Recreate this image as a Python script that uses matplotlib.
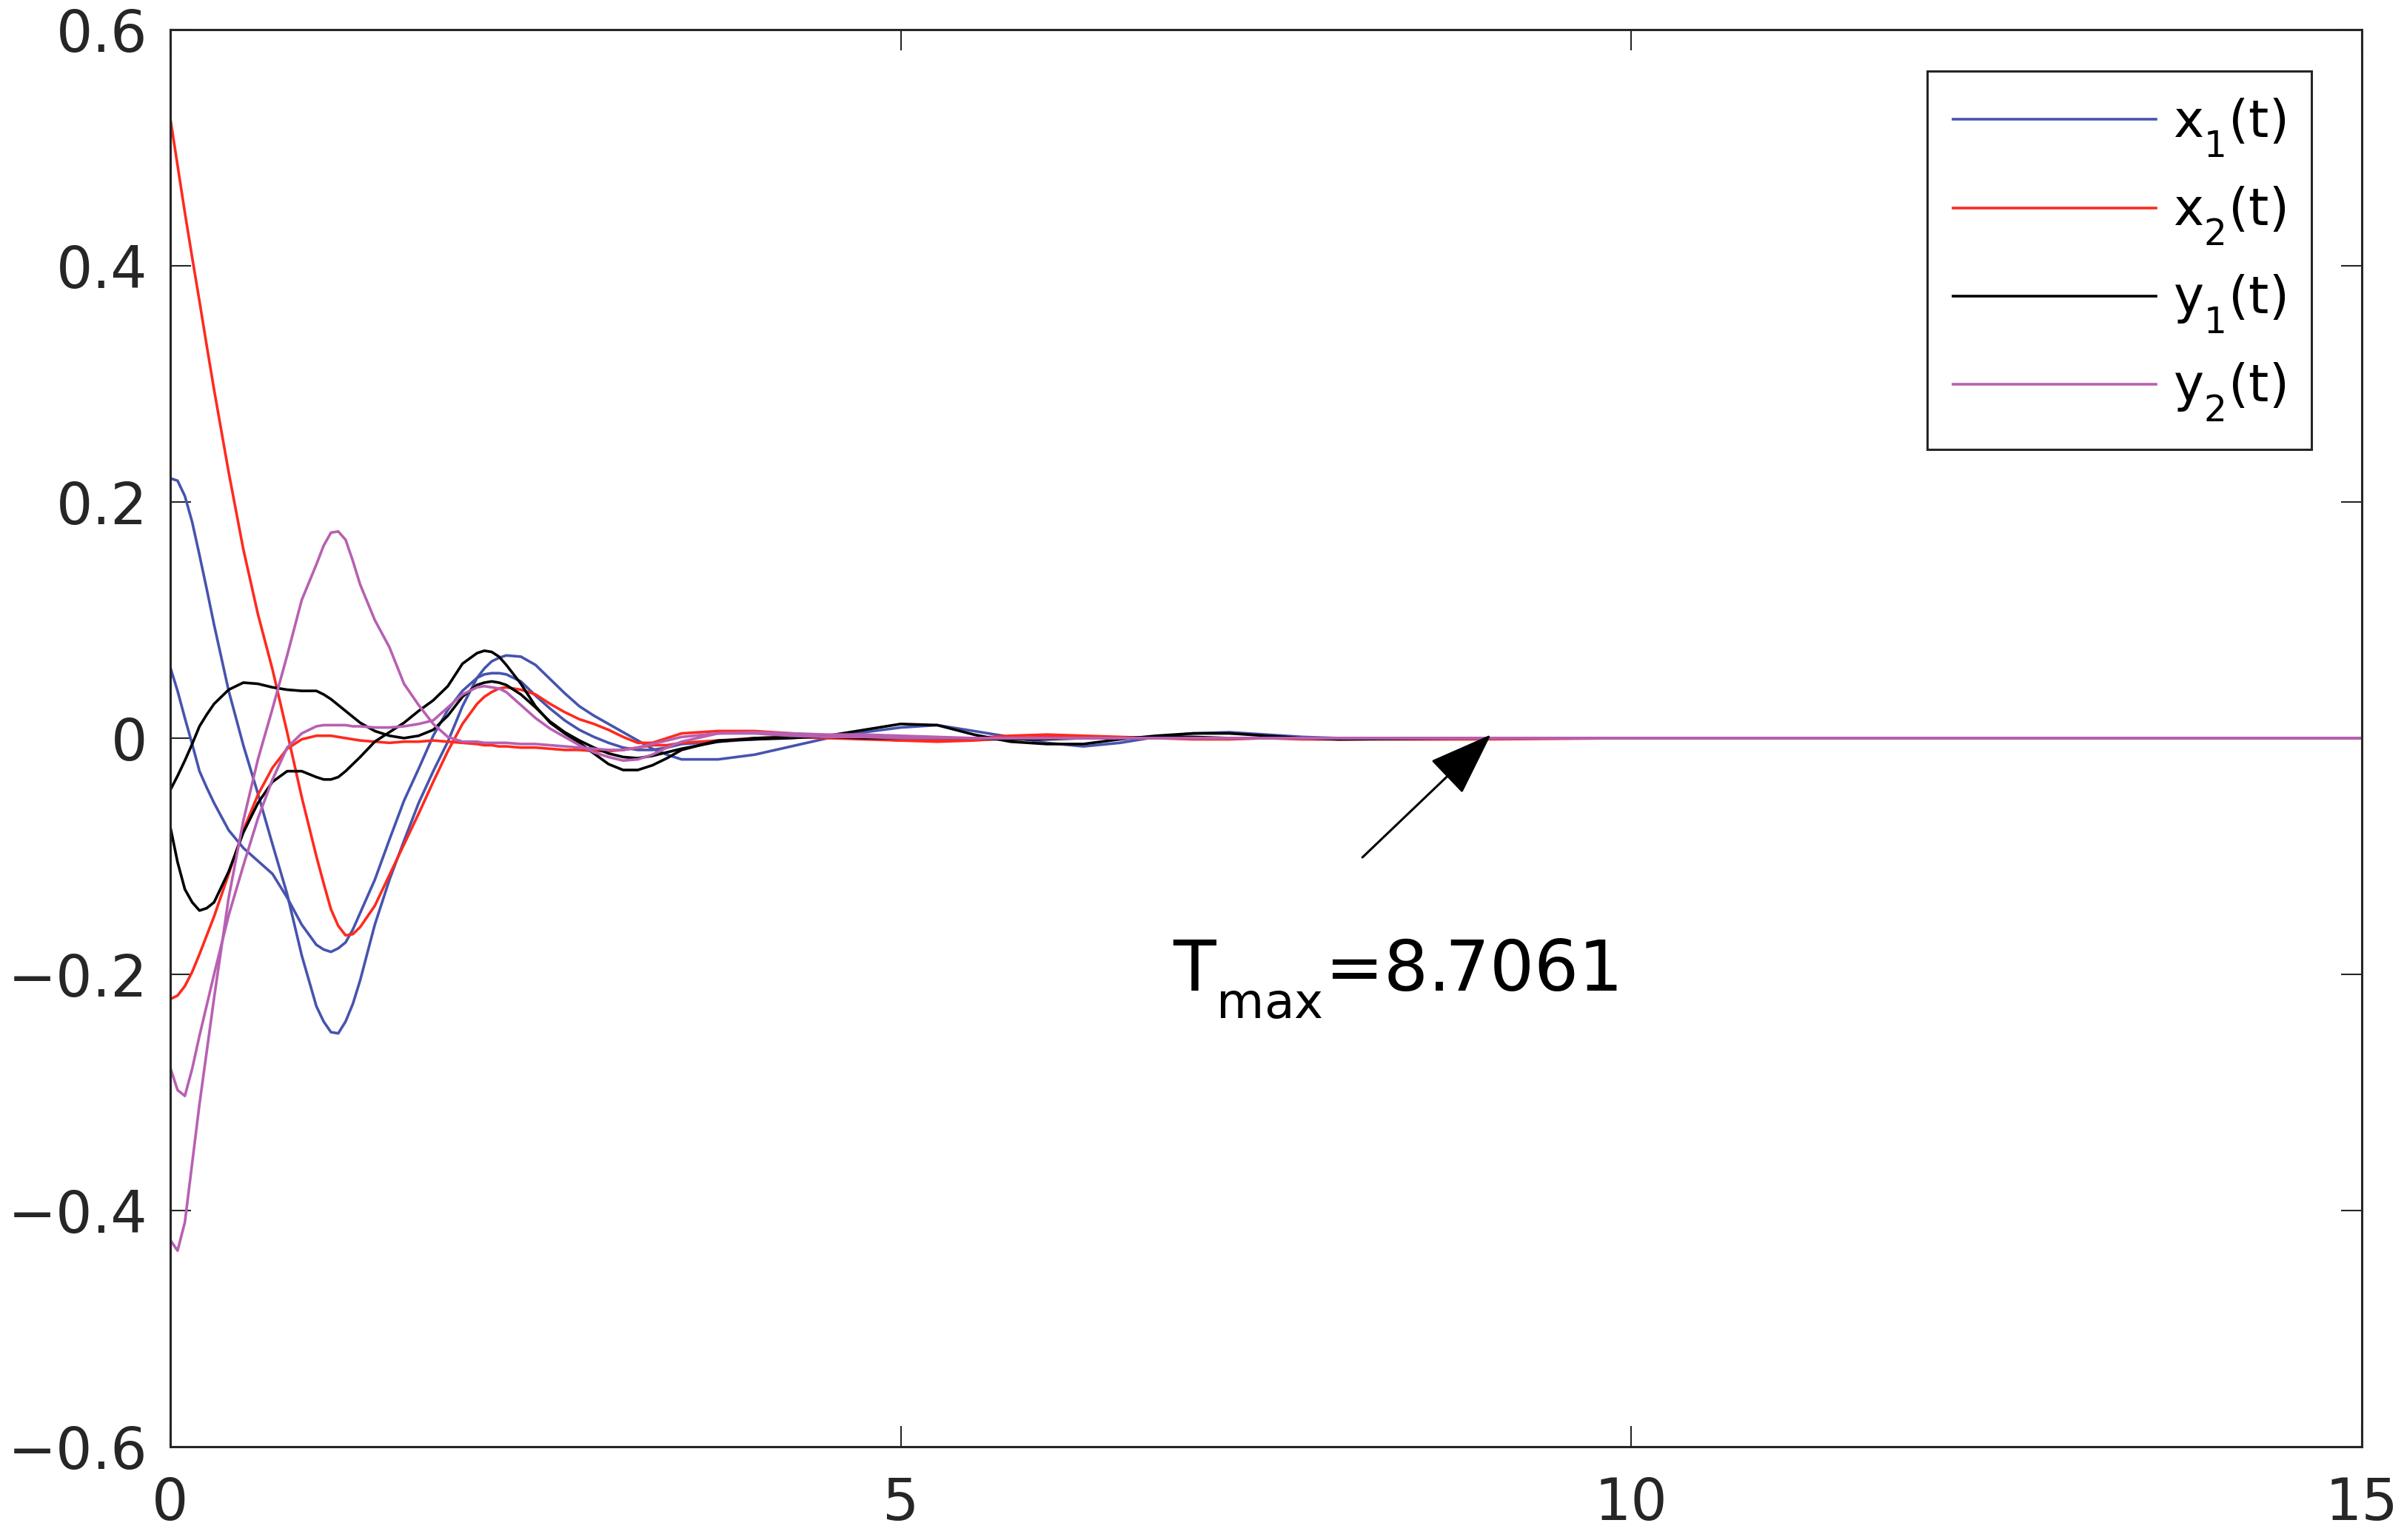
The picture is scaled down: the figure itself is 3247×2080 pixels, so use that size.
import matplotlib
matplotlib.use("Agg")
import matplotlib.pyplot as plt

# lower subscripts (MATLAB-like look)
try:
    import matplotlib._mathtext as _mt
    _mt.FontConstantsBase.sub1 = 0.72
    _mt.DejaVuSansFontConstants.sub1 = 0.72
except Exception:
    pass

# ---------------- data ----------------
t = [0.0, 0.05, 0.1, 0.15, 0.2, 0.25, 0.3, 0.4, 0.5, 0.6, 0.7, 0.8, 0.9,
     1.0, 1.05, 1.1, 1.15, 1.2, 1.25, 1.3, 1.4, 1.5, 1.6, 1.7, 1.8, 1.9,
     2.0, 2.1, 2.15, 2.2, 2.25, 2.3, 2.4, 2.5, 2.6, 2.7, 2.8, 2.9,
     3.0, 3.1, 3.2, 3.3, 3.4, 3.5,
     3.75, 4.0, 4.25, 4.5, 4.75, 5.0, 5.25, 5.5, 5.75, 6.0, 6.25, 6.5,
     6.75, 7.0, 7.25, 7.5, 7.75, 8.0, 9.0, 10.0, 12.0, 15.0]

x1_a = [0.220, 0.218, 0.205, 0.183, 0.155, 0.126, 0.096, 0.040, -0.006, -0.047, -0.090, -0.132, -0.184,
        -0.227, -0.240, -0.249, -0.250, -0.240, -0.225, -0.205, -0.158, -0.120, -0.087, -0.055, -0.028, -0.003,
        0.027, 0.051, 0.059, 0.065, 0.068, 0.070, 0.069, 0.062, 0.050, 0.038, 0.027, 0.019,
        0.012, 0.005, -0.002, -0.009, -0.014, -0.018,
        -0.018, -0.014, -0.007, 0.000, 0.005, 0.009, 0.011, 0.006, 0.001, -0.004, -0.007, -0.004,
        0.001, 0.004, 0.005, 0.003, 0.001, 0.000, 0.000, 0.000, 0.000, 0.000]
x1_b = [0.060, 0.040, 0.017, -0.005, -0.028, -0.042, -0.055, -0.078, -0.093, -0.104, -0.115, -0.135, -0.158,
        -0.175, -0.179, -0.181, -0.178, -0.173, -0.162, -0.148, -0.120, -0.086, -0.053, -0.026, 0.002, 0.024,
        0.040, 0.051, 0.054, 0.055, 0.055, 0.054, 0.048, 0.036, 0.025, 0.015, 0.007, 0.001,
        -0.004, -0.008, -0.010, -0.010, -0.008, -0.005,
        -0.003, -0.001, 0.001, 0.002, 0.002, 0.001, 0.000, -0.001, -0.001, 0.000, 0.000, 0.000,
        0.000, 0.000, 0.000, 0.000, 0.000, 0.000, 0.000, 0.000, 0.000, 0.000]
x2_a = [0.525, 0.485, 0.445, 0.407, 0.370, 0.332, 0.295, 0.225, 0.160, 0.105, 0.058, 0.005, -0.050,
        -0.100, -0.123, -0.145, -0.159, -0.167, -0.166, -0.160, -0.142, -0.116, -0.090, -0.064, -0.037, -0.011,
        0.012, 0.029, 0.035, 0.039, 0.042, 0.043, 0.041, 0.037, 0.029, 0.022, 0.016, 0.012,
        0.007, 0.001, -0.004, -0.004, 0.000, 0.004,
        0.006, 0.006, 0.004, 0.002, 0.000, -0.002, -0.002, 0.000, 0.002, 0.003, 0.002, 0.001,
        0.000, -0.001, -0.001, 0.000, 0.000, -0.001, 0.000, 0.000, 0.000, 0.000]
x2_b = [-0.221, -0.218, -0.210, -0.198, -0.183, -0.167, -0.151, -0.115, -0.078, -0.048, -0.025, -0.009, -0.001,
        0.002, 0.002, 0.002, 0.001, 0.000, -0.001, -0.002, -0.003, -0.004, -0.003, -0.003, -0.002, -0.003,
        -0.004, -0.005, -0.006, -0.006, -0.007, -0.007, -0.008, -0.008, -0.009, -0.010, -0.010, -0.011,
        -0.011, -0.010, -0.008, -0.006, -0.006, -0.004,
        -0.002, 0.000, 0.001, 0.000, -0.001, -0.002, -0.003, -0.002, 0.000, 0.001, 0.001, 0.000,
        0.000, 0.000, 0.000, 0.000, -0.001, -0.001, -0.001, 0.000, 0.000, 0.000]
y1_a = [-0.044, -0.032, -0.019, -0.005, 0.010, 0.020, 0.029, 0.041, 0.047, 0.046, 0.043, 0.041, 0.040,
        0.040, 0.037, 0.033, 0.028, 0.023, 0.018, 0.013, 0.006, 0.002, 0.000, 0.002, 0.007, 0.019,
        0.035, 0.045, 0.047, 0.048, 0.047, 0.045, 0.037, 0.026, 0.014, 0.005, -0.002, -0.008,
        -0.013, -0.016, -0.017, -0.015, -0.012, -0.009,
        -0.003, 0.000, 0.001, 0.001, 0.000, 0.000, 0.000, 0.000, -0.001, -0.001, 0.000, 0.000,
        0.001, 0.001, 0.000, 0.000, 0.000, 0.000, 0.000, 0.000, 0.000, 0.000]
y1_b = [-0.075, -0.105, -0.128, -0.139, -0.146, -0.144, -0.139, -0.113, -0.080, -0.055, -0.037, -0.028, -0.028,
        -0.033, -0.035, -0.035, -0.033, -0.028, -0.022, -0.016, -0.003, 0.005, 0.013, 0.023, 0.032, 0.044,
        0.063, 0.072, 0.074, 0.073, 0.069, 0.062, 0.046, 0.027, 0.013, 0.004, -0.004, -0.013,
        -0.022, -0.027, -0.027, -0.023, -0.017, -0.010,
        -0.002, -0.001, 0.000, 0.002, 0.007, 0.012, 0.011, 0.003, -0.003, -0.005, -0.005, -0.001,
        0.002, 0.004, 0.004, 0.002, 0.000, -0.001, 0.000, 0.000, 0.000, 0.000]
y2_a = [-0.279, -0.298, -0.303, -0.280, -0.252, -0.226, -0.200, -0.150, -0.108, -0.068, -0.035, -0.008, 0.004,
        0.010, 0.011, 0.011, 0.011, 0.011, 0.010, 0.010, 0.009, 0.009, 0.010, 0.012, 0.015, 0.026,
        0.037, 0.043, 0.044, 0.043, 0.042, 0.039, 0.028, 0.017, 0.008, 0.001, -0.006, -0.012,
        -0.016, -0.019, -0.018, -0.014, -0.008, -0.003,
        0.004, 0.005, 0.004, 0.003, 0.003, 0.002, 0.001, 0.000, 0.000, 0.000, 0.000, 0.000,
        0.000, 0.000, 0.000, 0.000, 0.000, 0.000, 0.000, 0.000, 0.000, 0.000]
y2_b = [-0.425, -0.434, -0.410, -0.360, -0.310, -0.265, -0.220, -0.135, -0.070, -0.018, 0.025, 0.070, 0.117,
        0.147, 0.163, 0.174, 0.175, 0.168, 0.150, 0.130, 0.100, 0.077, 0.046, 0.028, 0.012, 0.001,
        -0.003, -0.003, -0.004, -0.004, -0.004, -0.004, -0.005, -0.005, -0.006, -0.007, -0.008, -0.009,
        -0.010, -0.010, -0.008, -0.005, -0.002, 0.001,
        0.004, 0.004, 0.002, 0.001, 0.001, 0.000, 0.000, 0.000, 0.000, 0.000, 0.000, 0.000,
        0.000, 0.000, 0.000, 0.000, 0.000, 0.000, 0.000, 0.000, 0.000, 0.000]

series_labels = [r"$\mathregular{x_1(t)}$", r"$\mathregular{x_2(t)}$",
                 r"$\mathregular{y_1(t)}$", r"$\mathregular{y_2(t)}$"]
series_colors = ["#4654AE", "#FF2A1E", "#000000", "#B860B2"]

x_ticks = [0, 5, 10, 15]
x_tick_labels = ["0", "5", "10", "15"]
y_ticks = [-0.6, -0.4, -0.2, 0.0, 0.2, 0.4, 0.6]
y_tick_labels = ["\u22120.6", "\u22120.4", "\u22120.2", "0", "0.2", "0.4", "0.6"]

annot_text = r"$\mathregular{T_{max}}$=8.7061"
arrow_tip = (9.04, 0.003)
arrow_tail = (8.16, -0.101)
text_pos = (6.86, -0.214)

# ---------------- figure ----------------
plt.rcParams["font.family"] = ["DejaVu Sans"]
plt.rcParams["mathtext.fontset"] = "dejavusans"

fig = plt.figure(figsize=(32.48, 20.80), dpi=100)
ax = fig.add_axes([0.0708, 0.0606, 0.9113, 0.9202])

lw = 2.6
groups = [(x1_a, x1_b), (x2_a, x2_b), (y1_a, y1_b), (y2_a, y2_b)]
handles = []
for (a, b), lab, col in zip(groups, series_labels, series_colors):
    h, = ax.plot(t, a, color=col, lw=lw, label=lab, solid_joinstyle="round")
    ax.plot(t, b, color=col, lw=lw, solid_joinstyle="round")
    handles.append(h)

ax.set_xlim(0, 15)
ax.set_ylim(-0.6, 0.6)
ax.set_xticks(x_ticks)
ax.set_xticklabels(x_tick_labels)
ax.set_yticks(y_ticks)
ax.set_yticklabels(y_tick_labels)

axcol = "#262626"
for s in ax.spines.values():
    s.set_linewidth(2.2)
    s.set_color(axcol)
ax.tick_params(direction="in", length=20, width=1.5, color=axcol,
               labelsize=56, labelcolor=axcol, top=True, right=True)
ax.tick_params(axis="x", pad=28)
ax.tick_params(axis="y", pad=22)

leg = ax.legend(handles=handles, loc="upper right", bbox_to_anchor=(0.977, 0.9707),
                borderaxespad=0, fontsize=50, handlelength=3.95, handletextpad=0.33,
                borderpad=0.5, labelspacing=0.5, frameon=True, fancybox=False,
                framealpha=1.0, edgecolor=axcol)
leg.get_frame().set_linewidth(2.2)

ax.annotate("", xy=arrow_tip, xytext=arrow_tail,
            arrowprops=dict(arrowstyle="-|>,head_length=55,head_width=20",
                            mutation_scale=1, color="black", lw=2.2,
                            shrinkA=0, shrinkB=0))
ax.text(text_pos[0], text_pos[1], annot_text, fontsize=68, color="black",
        ha="left", va="baseline")

fig.savefig("out.png", dpi=100)
